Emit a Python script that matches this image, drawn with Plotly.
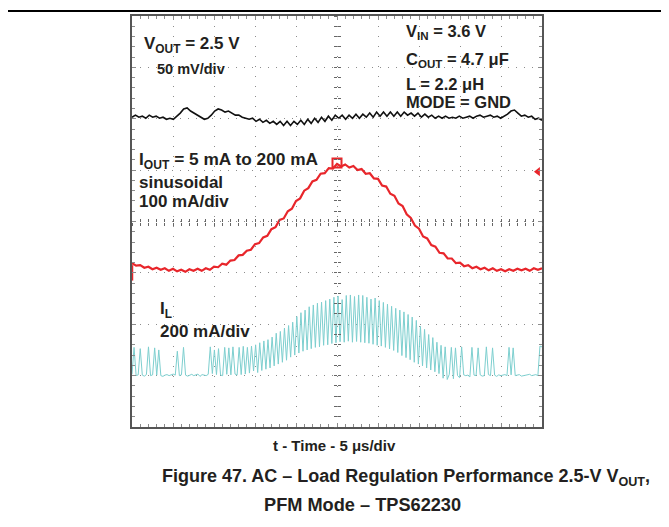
import numpy as np
import plotly.graph_objects as go

# scope settings: 10 div x 5 us/div
t_span_us = 50

# CH1: Vout ripple around 2.5 V, mV (50 mV/div)
vout_mv = [1.5, 3.5, 1.5, 2.5, 0.5, 3.5, 1.5, 2.5, 0.5, 1.5, -0.5, 0.5, -0.5, 2.5, 5.5, 9.5, 10.5, 7.5, 5.5, 3.5,
           1.5, -0.5, 0.5, 3.5, 7.5, 9.5, 8.5, 6.5, 7.5, 5.5, 3.5, 3.5, 1.5, 0.5, -0.5, 0.5, -2.5, -0.5, -3.5, -1.5,
           -4.5, -2.5, -5.5, -2.5, -6.5, -2.5, -6.5, -2.5, -5.5, -1.5, -5.5, -0.5, -4.5, 0.5, -3.5, 1.5, -2.5, 2.5, -1.5, 3.5,
           0.5, 3.5, -0.5, 3.5, 0.5, 4.5, 0.5, 4.5, 1.5, 5.5, 1.5, 6.5, 2.5, 6.5, 2.5, 6.5, 2.5, 6.5, 2.5, 6.5,
           3.5, 5.5, 2.5, 5.5, 1.5, 4.5, 1.5, 3.5, 0.5, 2.5, 0.5, 2.5, 0.5, 1.5, 0.5, 2.5, 0.5, 1.5, 2.5, 0.5,
           2.5, 3.5, 1.5, 2.5, 3.5, 1.5, 2.5, 0.5, 2.5, 4.5, 7.5, 8.5, 5.5, 2.5, 3.5, 1.5, 2.5, -0.5, 0.5, -1.5]

# CH2: load current, mA (100 mA/div)
iout_ma = [19, 14, 15, 10, 12, 7, 10, 6, 9, 4,
           8, 3, 6, 2, 7, 4, 8, 4, 9, 6,
           12, 11, 18, 16, 24, 25, 34, 35, 43, 45,
           56, 58, 69, 72, 85, 89, 103, 106, 120, 125,
           140, 145, 160, 165, 178, 181, 193, 194, 204, 203,
           212, 207, 211, 205, 208, 200, 202, 193, 194, 184,
           183, 170, 168, 154, 150, 135, 130, 114, 107, 92,
           86, 71, 67, 54, 51, 39, 38, 28, 28, 19,
           20, 13, 15, 9, 12, 7, 10, 5, 9, 4,
           7, 3, 7, 4, 8, 5, 8, 4, 9, 6,
           9]

# CH3: inductor current, mA (200 mA/div)
il_ma = [5, 110, 0, 3, 105, 2, -2, 4, 112, 0, 3, 108, 2, 100, 0, -3, 2, 4, 0, 3,
         6, 2, 95, 0, 3, 110, 2, -2, 3, 5, 0, 2, 6, -3, 4, 2, 0, 5, 112, 8,
         100, 4, 105, 2, 0, 110, 5, 108, 3, 112, 6, 2, 110, 4, 114, 6, 110, 10, 115, 18,
         120, 12, 128, 20, 135, 25, 140, 30, 150, 38, 165, 45, 172, 52, 185, 60, 195, 72, 208, 80,
         230, 88, 245, 95, 255, 100, 268, 105, 275, 110, 282, 112, 286, 118, 292, 120, 298, 125, 305, 128,
         310, 132, 296, 130, 312, 134, 314, 130, 308, 133, 314, 130, 312, 128, 305, 126, 298, 122, 302, 118,
         292, 115, 285, 110, 278, 104, 270, 98, 262, 90, 255, 78, 248, 70, 238, 62, 228, 52, 215, 45,
         192, 38, 180, 30, 160, 22, 148, 15, 130, 8, 118, -10, 112, -15, 5, 110, -12, 108, 0, -8,
         112, 3, 0, 2, -5, 110, 2, 0, 108, 3, -2, 0, 112, 4, 0, 108, 2, -3, 3, 0,
         2, 4, 0, 110, 3, 108, 0, 2, 4, -2, 0, 3, 2, 5, 0, 2, 4, 0, 115, 112]

# mV or mA per div and ground position on screen (div)
vout_scale, iout_scale, il_scale = 50, 100, 200
vout_ofs, iout_ofs, il_ofs = 2.0, -1.0, -3.0

trig_level_ma = 197
trig_mark_ma = 214

RED = '#e8262b'
CYAN = '#7dcfcf'
TXT = '#231f20'
FONT = 'Liberation Sans, Arial, sans-serif'

# page offset of the plot div (body margin) and plot box in page pixels
PAGE_OFS = 8
L, R, T, B = 132, 542, 14, 427
W, H = 669, 527


def px(x, y):
    return (x - L) / (R - L), (B - y) / (B - T)


def div_y(vals, scale, ofs):
    return [ofs + v / scale for v in vals]


fig = go.Figure()

fig.add_trace(go.Scatter(x=np.linspace(0, t_span_us, len(il_ma)), y=div_y(il_ma, il_scale, il_ofs),
                         mode='lines', line=dict(color=CYAN, width=1), hoverinfo='skip'))
fig.add_trace(go.Scatter(x=np.linspace(0, t_span_us, len(vout_mv)), y=div_y(vout_mv, vout_scale, vout_ofs),
                         mode='lines', line=dict(color='#111111', width=1.6), hoverinfo='skip'))
fig.add_trace(go.Scatter(x=np.linspace(0, t_span_us, len(iout_ma)), y=div_y(iout_ma, iout_scale, iout_ofs),
                         mode='lines', line=dict(color=RED, width=2.2), hoverinfo='skip'))

# scope markers: trigger position, trigger level, CH2 ground
fig.add_trace(go.Scatter(x=[t_span_us / 2], y=[iout_ofs + trig_mark_ma / iout_scale], mode='markers',
                         marker=dict(symbol='square-open', size=9, color=RED, line=dict(width=2)),
                         hoverinfo='skip'))
fig.add_trace(go.Scatter(x=[t_span_us * 0.99], y=[iout_ofs + trig_level_ma / iout_scale], mode='markers',
                         marker=dict(symbol='triangle-left', size=8, color=RED), cliponaxis=False,
                         hoverinfo='skip'))
fig.add_trace(go.Scatter(x=[0], y=[iout_ofs], mode='markers', cliponaxis=False,
                         marker=dict(symbol='line-ns', size=11, line=dict(color=RED, width=2.5)),
                         hoverinfo='skip'))

# dummy traces so the centre graticule axes get drawn
fig.add_trace(go.Scatter(x=[None], y=[None], xaxis='x2', yaxis='y2', hoverinfo='skip'))
fig.add_trace(go.Scatter(x=[None], y=[None], xaxis='x3', yaxis='y3', hoverinfo='skip'))

ax_common = dict(showticklabels=False, zeroline=False, fixedrange=True)
fig.update_layout(
    width=W, height=H,
    margin=dict(l=L - PAGE_OFS, r=W - R + PAGE_OFS, t=T - PAGE_OFS, b=H - B + PAGE_OFS),
    paper_bgcolor='white', plot_bgcolor='white',
    showlegend=False,
    font=dict(family=FONT, color=TXT),
    xaxis=dict(range=[0, t_span_us], dtick=5, showgrid=True, gridcolor='#8c8c8c', gridwidth=1,
               griddash='1px,9px', showline=True, linecolor='#555555', linewidth=2, mirror='ticks',
               ticks='inside', ticklen=4, tickcolor='#8c8c8c',
               minor=dict(dtick=1, ticks='inside', ticklen=3, tickcolor='#8c8c8c', showgrid=False),
               **ax_common),
    yaxis=dict(range=[-4, 4], dtick=1, showgrid=True, gridcolor='#8c8c8c', gridwidth=1,
               griddash='1px,7px', showline=True, linecolor='#555555', linewidth=2, mirror='ticks',
               ticks='inside', ticklen=4, tickcolor='#8c8c8c',
               minor=dict(dtick=0.2, ticks='inside', ticklen=3, tickcolor='#8c8c8c', showgrid=False),
               **ax_common),
    xaxis2=dict(overlaying='x', anchor='free', position=0.5, range=[0, t_span_us], dtick=1,
                ticks='inside', ticklen=3, tickcolor='#666666', showgrid=False, showline=False, **ax_common),
    yaxis2=dict(overlaying='y', anchor='free', position=0.5, range=[-4, 4], dtick=0.2,
                ticks='inside', ticklen=3, tickcolor='#666666', showgrid=False, showline=False, **ax_common),
    xaxis3=dict(overlaying='x', anchor='free', position=0.5, range=[0, t_span_us], dtick=1,
                ticks='outside', ticklen=3, tickcolor='#666666', showgrid=False, showline=False, **ax_common),
    yaxis3=dict(overlaying='y', anchor='free', position=0.5, range=[-4, 4], dtick=0.2,
                ticks='outside', ticklen=3, tickcolor='#666666', showgrid=False, showline=False, **ax_common),
)

# rule across the top of the page (as high as the page margin allows)
x0, _ = px(PAGE_OFS, 0)
x1, _ = px(W, 0)
_, yr = px(0, PAGE_OFS + 1)
fig.add_shape(type='line', xref='paper', yref='paper', x0=x0, x1=x1, y0=yr, y1=yr,
              line=dict(color='black', width=2))

labels = [
    ('<b>V<sub>OUT</sub> = 2.5 V</b>', 142, 43, 17, 'left'),
    ('<b>50 mV/div</b>', 155, 67, 14.5, 'left'),
    ('<b>V<sub>IN</sub> = 3.6 V</b>', 404, 30, 16.5, 'left'),
    ('<b>C<sub>OUT</sub> = 4.7 μF</b>', 404, 58, 16.5, 'left'),
    ('<b>L = 2.2 μH</b>', 404, 82, 16.5, 'left'),
    ('<b>MODE = GND</b>', 404, 100, 16.5, 'left'),
    ('<b>I<sub>OUT</sub> = 5 mA to 200 mA</b>', 137, 159, 17.3, 'left'),
    ('<b>sinusoidal</b>', 137, 181, 17, 'left'),
    ('<b>100 mA/div</b>', 137, 200, 17, 'left'),
    ('<b>I<sub>L</sub></b>', 158, 309, 17, 'left'),
    ('<b>200 mA/div</b>', 158, 331, 17, 'left'),
    ('<b>t - Time - 5 μs/div</b>', 334, 446, 15, 'center'),
    ('<b>Figure 47. AC – Load Regulation Performance 2.5-V V<sub>OUT</sub>,</b>', 160, 478, 18, 'left'),
    ('<b>PFM Mode – TPS62230</b>', 362, 505, 18.2, 'center'),
]
for text, x, y, size, anchor in labels:
    ax, ay = px(x, y)
    fig.add_annotation(text=text, x=ax, y=ay, xref='paper', yref='paper', showarrow=False,
                       xanchor=anchor, yanchor='middle', font=dict(size=size, color=TXT, family=FONT))

fig.write_html("out.html")
